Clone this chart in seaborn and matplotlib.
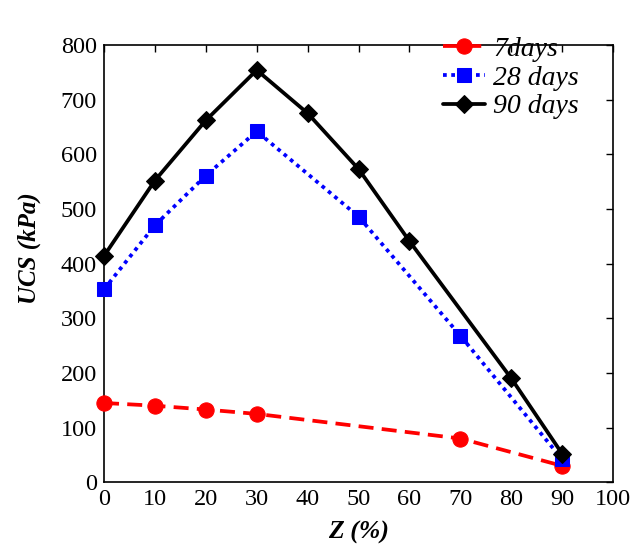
import matplotlib
matplotlib.use("Agg")
import matplotlib.pyplot as plt
import seaborn as sns
import pandas as pd

x7 = [0, 10, 20, 30, 70, 90]
y7 = [145, 140, 133, 125, 80, 30]
x28 = [0, 10, 20, 30, 50, 70, 90]
y28 = [353, 470, 561, 642, 486, 268, 42]
x90 = [0, 10, 20, 30, 40, 50, 60, 80, 90]
y90 = [414, 552, 662, 754, 675, 573, 441, 190, 52]
labels = ["7days", "28 days", "90 days"]

sns.set_style("white")
plt.rcParams['font.family'] = ['Liberation Serif', 'DejaVu Serif']
plt.rcParams['text.color'] = 'black'
plt.rcParams['axes.labelcolor'] = 'black'
plt.rcParams['xtick.color'] = 'black'
plt.rcParams['ytick.color'] = 'black'

fig = plt.figure(figsize=(6.42, 5.48), dpi=100)
ax = fig.add_axes([0.162, 0.120, 0.793, 0.798])

styles = [
    (x7, y7, labels[0], 'red', (0, (4, 2.2)), 'o', 11),
    (x28, y28, labels[1], 'blue', (0, (1, 1.2)), 's', 10),
    (x90, y90, labels[2], 'black', '-', 'D', 9),
]
for xs, ys, lab, c, ls, m, ms in styles:
    df = pd.DataFrame({'x': xs, 'y': ys})
    sns.lineplot(data=df, x='x', y='y', ax=ax, color=c, linestyle=ls,
                 linewidth=2.7, marker=m, markersize=ms, markeredgecolor=c,
                 label=lab, clip_on=False, zorder=3)

ax.set_xlim(0, 100)
ax.set_ylim(0, 800)
ax.set_xticks(range(0, 101, 10))
ax.set_yticks(range(0, 801, 100))
ax.tick_params(direction='in', length=5, width=1, top=True, right=True,
               labelsize=17.5, colors='black', pad=5)
for s in ax.spines.values():
    s.set_color('black')
    s.set_linewidth(1.2)
ax.set_xlabel('Z (%)', fontsize=18.5, fontweight='bold', fontstyle='italic', labelpad=8, color='black')
ax.set_ylabel('UCS (kPa)', fontsize=18, fontweight='bold', fontstyle='italic', labelpad=14, color='black')
ax.yaxis.label.set_y(0.535)
leg = ax.legend(loc='upper left', frameon=False, prop={'size': 20, 'style': 'italic'},
                handlelength=1.5, handletextpad=0.3, borderaxespad=0.0, labelspacing=0.12,
                bbox_to_anchor=(0.645, 1.045))
for t in leg.get_texts():
    t.set_color('black')
fig.savefig('out.png', dpi=100)
